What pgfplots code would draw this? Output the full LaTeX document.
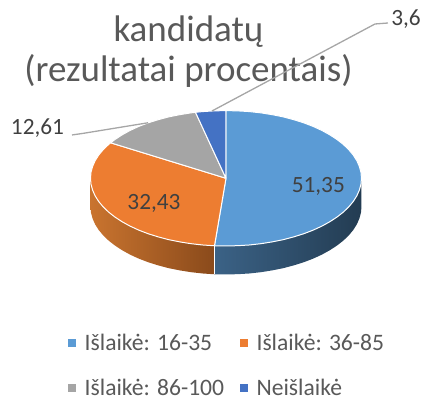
\documentclass[border=0pt]{standalone}
\usepackage{fontspec}
\setmainfont{Carlito}
\usepackage{pgfplots}
\pgfplotsset{compat=1.18}
\definecolor{sliceA}{HTML}{5B9BD5}
\definecolor{sliceB}{HTML}{ED7D31}
\definecolor{sliceC}{HTML}{A5A5A5}
\definecolor{sliceD}{HTML}{4472C4}
\definecolor{wallAl}{HTML}{3B6286}
\definecolor{wallAm}{HTML}{233C52}
\definecolor{wallBl}{HTML}{C9742F}
\definecolor{wallBm}{HTML}{B5662A}
\definecolor{wallBr}{HTML}{8A4A1B}
\definecolor{titlegray}{HTML}{595959}
\definecolor{labelgray}{HTML}{404040}
\definecolor{leader}{HTML}{A6A6A6}
\begin{document}
\begin{tikzpicture}
\begin{axis}[
  scale only axis, width=424bp, height=401bp,
  xmin=-226, xmax=198, ymin=-222.7, ymax=178.3,
  hide axis, clip=false,
  legend columns=2,
  legend cell align=left,
  legend image code/.code={\fill[#1] (0bp,-3.5bp) rectangle (7bp,3.5bp);},
  legend style={
    draw=none, fill=none, inner sep=0pt, outer sep=0pt,
    at={(axis cs:-157.7,-155.5)}, anchor=north west,
    font=\fontsize{23.6bp}{26bp}\selectfont, text=titlegray,
    nodes={inner sep=0pt, outer sep=0pt},
    /tikz/row sep=27bp,
    /tikz/column 1/.style={column sep=9bp},
    /tikz/column 2/.style={column sep=16bp},
    /tikz/column 3/.style={column sep=9bp},
  },
]
\path (rel axis cs:0,0) rectangle (rel axis cs:1,1);

\addlegendimage{sliceA}\addlegendentry{Išlaikė: 16-35}
\addlegendimage{sliceB}\addlegendentry{Išlaikė: 36-85}
\addlegendimage{sliceC}\addlegendentry{Išlaikė: 86-100}
\addlegendimage{sliceD}\addlegendentry{Neišlaikė}

% title first, the leader line runs over it
\node[anchor=base, text=titlegray, font=\fontsize{37bp}{42bp}\selectfont] at (axis cs:-37.5,136.6) {kandidatų};
\node[anchor=base, text=titlegray, font=\fontsize{37bp}{42bp}\selectfont] at (axis cs:-37.5,96.6) {(rezultatai procentais)};

% side walls
\addplot[draw=none, left color=wallAl, middle color=wallAm, right color=wallAm, forget plot] coordinates {
 (135.5,0)(135,-5.9)(133.4,-11.8)(130.9,-17.5)(127.3,-23.2)(122.8,-28.6)(117.3,-33.9)(111,-38.8)(103.8,-43.5)
 (95.8,-47.9)(87.1,-51.9)(77.7,-55.5)(67.8,-58.6)(57.3,-61.4)(46.3,-63.6)(35.1,-65.4)(23.5,-66.7)(11.8,-67.4)(0,-67.7)(-11.5,-67.5)
 (-11.5,-96)(0,-96.2)(11.8,-95.9)(23.5,-95.2)(35.1,-93.9)(46.3,-92.1)(57.3,-89.9)(67.8,-87.1)(77.7,-84)(87.1,-80.4)
 (95.8,-76.4)(103.8,-72)(111,-67.3)(117.3,-62.4)(122.8,-57.1)(127.3,-51.7)(130.9,-46)(133.4,-40.3)(135,-34.4)(135.5,-28.5)(135.5,0)
};
\addplot[draw=none, left color=wallBl, middle color=wallBm, right color=wallBr, forget plot] coordinates {
 (-11.5,-67.5)(-23.5,-66.7)(-35.1,-65.4)(-46.3,-63.6)(-57.3,-61.4)(-67.8,-58.6)(-77.7,-55.5)(-87.1,-51.9)(-95.8,-47.9)
 (-103.8,-43.5)(-111,-38.8)(-117.3,-33.9)(-122.8,-28.6)(-127.3,-23.2)(-130.9,-17.5)(-133.4,-11.8)(-135,-5.9)(-135.5,0)
 (-135.5,-28.5)(-135,-34.4)(-133.4,-40.3)(-130.9,-46)(-127.3,-51.7)(-122.8,-57.1)(-117.3,-62.4)(-111,-67.3)(-103.8,-72)
 (-95.8,-76.4)(-87.1,-80.4)(-77.7,-84)(-67.8,-87.1)(-57.3,-89.9)(-46.3,-92.1)(-35.1,-93.9)(-23.5,-95.2)(-11.5,-96)(-11.5,-67.5)
};
\addplot[white, line width=0.8bp, forget plot] coordinates {(-11.5,-67.5)(-11.5,-96)};

% top face: 51,35 / 32,43 / 12,61 / 3,6
\addplot[fill=sliceA, draw=white, line width=1bp, line join=round, forget plot] coordinates {
 (0,0)(0,67.7)(11.8,67.4)(23.5,66.7)(35.1,65.4)(46.3,63.6)(57.3,61.4)(67.8,58.6)(77.7,55.5)(87.1,51.9)(95.8,47.9)
 (103.8,43.5)(111,38.8)(117.3,33.9)(122.8,28.6)(127.3,23.2)(130.9,17.5)(133.4,11.8)(135,5.9)(135.5,0)
 (135,-5.9)(133.4,-11.8)(130.9,-17.5)(127.3,-23.2)(122.8,-28.6)(117.3,-33.9)(111,-38.8)(103.8,-43.5)
 (95.8,-47.9)(87.1,-51.9)(77.7,-55.5)(67.8,-58.6)(57.3,-61.4)(46.3,-63.6)(35.1,-65.4)(23.5,-66.7)(11.8,-67.4)(0,-67.7)(-11.5,-67.5)(0,0)
};
\addplot[fill=sliceB, draw=white, line width=1bp, line join=round, forget plot] coordinates {
 (0,0)(-11.5,-67.5)(-23.5,-66.7)(-35.1,-65.4)(-46.3,-63.6)(-57.3,-61.4)(-67.8,-58.6)(-77.7,-55.5)(-87.1,-51.9)(-95.8,-47.9)
 (-103.8,-43.5)(-111,-38.8)(-117.3,-33.9)(-122.8,-28.6)(-127.3,-23.2)(-130.9,-17.5)(-133.4,-11.8)(-135,-5.9)(-135.5,0)
 (-135,5.9)(-133.4,11.8)(-130.9,17.5)(-127.3,23.2)(-122.8,28.6)(-117.3,33.9)(-115.4,35.5)(0,0)
};
\addplot[fill=sliceC, draw=white, line width=1bp, line join=round, forget plot] coordinates {
 (0,0)(-115.4,35.5)(-111,38.8)(-103.8,43.5)(-95.8,47.9)(-87.1,51.9)(-77.7,55.5)(-67.8,58.6)(-57.3,61.4)(-46.3,63.6)(-35.1,65.4)(-30.5,66)(0,0)
};
\addplot[fill=sliceD, draw=white, line width=1bp, line join=round, forget plot] coordinates {
 (0,0)(-30.5,66)(-23.5,66.7)(-11.8,67.4)(0,67.7)(0,0)
};

% leader lines
\addplot[leader, line width=1.3bp, forget plot] coordinates {(162,155.3)(149,154.3)(-14,67.3)};
\addplot[leader, line width=1.3bp, forget plot] coordinates {(-154,43.3)(-143,44.9)(-78,55.5)};

% data labels
\node[text=labelgray, font=\fontsize{23.3bp}{26bp}\selectfont] at (axis cs:92.3,-7.7) {51,35};
\node[text=labelgray, font=\fontsize{23.3bp}{26bp}\selectfont] at (axis cs:-72,-25) {32,43};
\node[text=labelgray, font=\fontsize{23.3bp}{26bp}\selectfont] at (axis cs:-188.5,50) {12,61};
\node[text=labelgray, font=\fontsize{23.3bp}{26bp}\selectfont] at (axis cs:180,159) {3,6};
\end{axis}
\end{tikzpicture}
\end{document}
